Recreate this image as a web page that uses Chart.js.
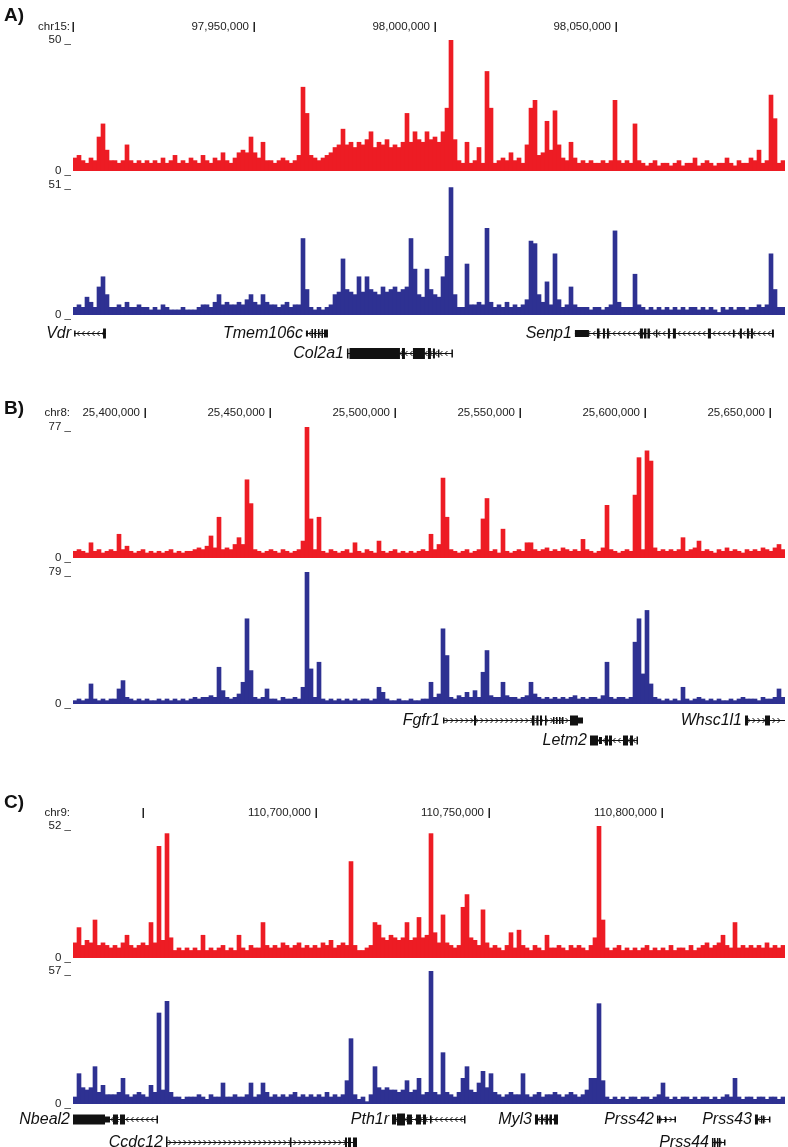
<!DOCTYPE html>
<html>
<head>
<meta charset="utf-8">
<script src="https://cdn.jsdelivr.net/npm/chart.js@4.4.1/dist/chart.umd.min.js"></script>
<style>
  html, body { margin: 0; padding: 0; background: #fff; }
  #page { position: relative; width: 788px; height: 1147px; overflow: hidden; }
  #page canvas { position: absolute; left: 0; }
</style>
</head>
<body>
<div id="page"></div>
<script>
// genomic windows (start, end) and ruler ticks
const aRange = [97900000, 98096685];
const aTicks = [97900000, 97950000, 98000000, 98050000];
const aTickLabels = ['', '97,950,000', '98,000,000', '98,050,000'];
const bRange = [25371200, 25656000];
const bTicks = [25400000, 25450000, 25500000, 25550000, 25600000, 25650000];
const bTickLabels = ['25,400,000', '25,450,000', '25,500,000', '25,550,000', '25,600,000', '25,650,000'];
const cRange = [110629800, 110835580];
const cTicks = [110650000, 110700000, 110750000, 110800000];
const cTickLabels = ['', '110,700,000', '110,750,000', '110,800,000'];

// track maxima (data range labels)
const aMax = [50, 51];
const bMax = [77, 79];
const cMax = [52, 57];

// binned coverage, evenly spaced over each window
const aRed = [5,6,4,3,5,4,13,18,8,4, 4,3,4,10,4,3,4,3,4,3, 4,3,5,3,4,6,3,4,3,5, 4,3,6,4,3,5,4,7,4,3,
  5,7,8,7,13,7,5,11,4,4, 3,4,5,4,3,4,6,32,22,6, 5,4,5,6,7,9,10,16,10,11, 9,11,10,12,15,9,11,10,12,9,
  10,9,11,22,11,15,12,11,15,12, 13,11,15,24,50,12,4,3,11,3, 4,9,3,38,24,3,4,5,4,7, 4,5,3,10,24,27,6,7,19,8,
  23,10,5,4,11,5,3,4,3,4, 3,3,4,3,4,27,4,3,4,3, 18,4,3,2,3,4,2,3,3,2, 3,4,2,3,3,5,2,3,4,3,
  2,3,3,5,3,2,4,3,3,5, 4,8,3,4,29,20,3,4];
const aBlue = [3,4,3,7,5,3,11,15,8,3, 3,4,3,5,3,3,4,3,3,2, 3,2,4,3,2,2,2,3,2,2, 2,3,4,4,3,5,8,4,5,4,
  4,5,4,6,8,5,4,8,5,4, 4,3,4,5,3,4,4,30,10,3, 2,3,2,3,4,8,9,22,10,9, 8,15,9,15,10,9,8,11,9,10,
  11,9,10,11,30,18,8,7,18,10, 8,7,15,23,50,8,3,3,20,4, 4,5,4,34,5,3,4,3,5,3, 4,3,4,6,29,28,8,5,13,4,
  24,6,3,4,11,4,3,3,3,2, 3,3,2,3,4,33,5,3,3,3, 16,4,3,2,3,2,3,2,3,2, 3,2,3,2,3,3,2,3,2,3,
  2,1,3,2,3,2,3,3,2,3, 3,4,3,4,24,10,3,3];
const bRed = [4,5,4,3,9,4,5,3,4,5, 4,14,5,7,4,3,4,5,3,4, 3,4,3,4,5,3,4,3,4,4, 5,6,5,7,13,6,24,5,6,5,
  8,12,8,46,32,5,4,3,4,5, 4,3,5,4,3,4,5,10,77,23, 5,24,4,3,5,4,3,4,5,3, 9,4,3,5,4,3,10,4,3,4,
  5,3,4,3,4,3,4,5,4,14, 5,8,47,24,5,4,3,4,5,3, 4,5,23,35,4,5,3,17,4,3, 4,5,4,9,9,5,4,5,6,4,
  5,4,6,5,4,5,4,11,5,4, 3,4,6,31,5,4,3,4,5,4, 37,59,5,63,57,6,4,5,4,5, 4,5,12,4,5,6,10,4,5,4,
  3,5,4,6,4,5,4,3,5,4, 5,4,6,5,4,6,8,5];
const bBlue = [2,3,2,3,12,3,2,3,2,3, 3,9,14,4,3,2,3,2,3,2, 2,3,2,3,2,3,2,3,2,3, 4,3,4,4,5,4,22,8,4,3,
  4,6,13,51,20,4,3,4,9,3, 3,2,4,3,3,4,3,10,79,21, 4,25,3,2,3,2,3,2,3,2, 3,2,3,3,2,3,10,7,3,2,
  2,3,2,2,3,2,2,3,3,13, 4,6,45,29,4,3,5,4,7,4, 8,4,19,32,5,4,4,13,5,4, 4,3,4,5,13,6,4,3,4,3,
  4,3,4,3,4,5,3,4,3,4, 4,3,5,25,4,3,4,4,3,4, 37,51,18,56,12,4,3,2,3,2, 3,2,10,3,2,3,4,3,2,3,
  2,3,2,2,3,2,3,4,3,3, 3,2,4,3,3,4,9,4];
const cRed = [6,12,5,7,6,15,5,6,5,4, 5,4,6,9,5,4,5,6,5,14, 6,44,7,49,8,3,4,3,4,3, 4,3,9,3,4,3,4,5,3,4,
  3,9,4,3,5,4,4,14,5,4, 5,4,6,5,4,5,6,4,5,4, 5,4,6,5,7,4,5,6,5,38, 5,3,3,4,5,14,13,8,7,9,
  8,7,8,14,7,8,16,8,9,49, 10,6,17,6,5,4,5,20,25,8, 7,5,19,6,4,5,4,3,5,10, 4,11,5,4,3,5,4,3,9,4,
  4,5,4,3,5,4,5,4,3,5, 8,52,15,4,3,4,5,3,4,3, 4,3,4,5,3,4,3,4,3,5, 3,4,4,3,5,3,4,5,6,4,
  5,6,9,5,4,14,4,5,4,5, 4,5,4,6,4,5,4,5];
const cBlue = [3,13,7,6,7,16,5,8,4,4, 4,5,11,4,3,4,5,4,3,8, 5,39,6,44,5,3,3,2,3,3, 3,4,3,2,4,3,3,9,3,3,
  4,3,3,4,9,3,4,9,5,3, 4,3,4,3,4,5,3,4,3,4, 3,4,3,5,3,4,3,4,10,28, 4,2,3,1,4,16,7,6,7,6,
  6,5,6,10,5,6,11,4,5,57, 5,4,22,5,4,3,5,11,16,6, 5,9,14,7,13,5,4,3,4,5, 4,4,13,4,3,4,5,3,4,4,
  5,4,3,4,5,4,3,4,6,11, 11,43,10,3,2,3,2,3,2,3, 3,2,3,3,2,3,4,9,3,2, 3,2,3,3,2,3,2,3,3,2,
  3,2,3,4,3,11,3,2,3,3, 2,3,3,2,3,3,2,3];

// gene models: exons as [start, end, height]
const aGenes = [
  { name: 'Vdr', row: 0, start: 97900300, end: 97909100, strand: -1,
    exons: [[97900300, 97900600, 6], [97908300, 97909100, 10]] },
  { name: 'Tmem106c', row: 0, start: 97964350, end: 97970430, strand: -1,
    exons: [[97964350, 97964900, 6], [97965870, 97966290, 9], [97966700, 97967120, 9], [97967670, 97968080, 9], [97968640, 97969050, 9], [97969330, 97970430, 8]] },
  { name: 'Col2a1', row: 1, start: 97975680, end: 98004820, strand: -1,
    exons: [[97975680, 97976095, 10], [97976370, 97990320, 11], [97990870, 97991700, 11], [97993910, 97997220, 11], [97998050, 97998880, 11], [97999430, 97999980, 10], [98000810, 98001225, 8], [98004540, 98004820, 8]] },
  { name: 'Senp1', row: 0, start: 98038650, end: 98093620, strand: -1,
    exons: [[98038650, 98042520, 7], [98044730, 98045420, 10], [98046390, 98046940, 10], [98047490, 98048040, 10], [98056610, 98057440, 10], [98057720, 98058410, 10], [98058690, 98059370, 10], [98061030, 98061300, 8], [98064340, 98064890, 10], [98065720, 98066550, 10], [98075390, 98076220, 10], [98082300, 98082710, 8], [98084230, 98084780, 10], [98086160, 98086720, 10], [98087270, 98087820, 10], [98093070, 98093620, 8]] }
];
const bGenes = [
  { name: 'Fgfr1', row: 0, start: 25519200, end: 25575200, strand: 1,
    exons: [[25519200, 25519600, 6], [25531600, 25532400, 10], [25554800, 25555800, 10], [25556600, 25557400, 10], [25558000, 25558800, 10], [25560000, 25560600, 10], [25563200, 25563600, 7], [25564400, 25564800, 7], [25565600, 25566000, 7], [25566800, 25567200, 7], [25570000, 25573200, 10], [25573200, 25575200, 6]] },
  { name: 'Letm2', row: 1, start: 25578000, end: 25597200, strand: -1,
    exons: [[25578000, 25581200, 10], [25581600, 25582800, 7], [25584000, 25585200, 10], [25585600, 25586800, 10], [25591200, 25593200, 10], [25594000, 25595200, 10], [25596600, 25597200, 8]] },
  { name: 'Whsc1l1', row: 0, start: 25640000, end: 25656000, strand: 1,
    exons: [[25640000, 25641200, 10], [25648000, 25650000, 10]] }
];
const cGenes = [
  { name: 'Nbeal2', row: 0, start: 110629800, end: 110654080, strand: -1,
    exons: [[110629800, 110639050, 10], [110639050, 110640490, 6], [110641360, 110642800, 10], [110643380, 110644830, 10], [110653930, 110654080, 8]] },
  { name: 'Ccdc12', row: 1, start: 110656680, end: 110711880, strand: 1,
    exons: [[110656680, 110656970, 12], [110692510, 110692800, 10], [110708410, 110708990, 10], [110709280, 110710140, 10], [110710720, 110711880, 10]] },
  { name: 'Pth1r', row: 0, start: 110722000, end: 110743090, strand: -1,
    exons: [[110722000, 110723150, 10], [110723440, 110725750, 12], [110726330, 110727770, 10], [110728930, 110730370, 10], [110730950, 110731820, 10], [110732970, 110733260, 8], [110742800, 110743090, 8]] },
  { name: 'Myl3', row: 0, start: 110763320, end: 110769970, strand: -1,
    exons: [[110763320, 110764190, 10], [110765050, 110765630, 10], [110766350, 110767080, 10], [110767520, 110768240, 10], [110768810, 110769970, 10]] },
  { name: 'Prss42', row: 0, start: 110798580, end: 110803780, strand: 1,
    exons: [[110798580, 110798870, 8], [110799150, 110799440, 8], [110800880, 110801170, 6], [110803640, 110803780, 6]] },
  { name: 'Prss44', row: 1, start: 110814470, end: 110818230, strand: 1,
    exons: [[110814470, 110814760, 9], [110815050, 110815340, 9], [110815920, 110816210, 9], [110816500, 110816790, 9], [110817940, 110818230, 6]] },
  { name: 'Prss43', row: 0, start: 110826900, end: 110831230, strand: -1,
    exons: [[110826900, 110827760, 10], [110828630, 110828920, 8], [110829200, 110829490, 8], [110830940, 110831230, 6]] }
];

const RED = '#ED1C24';
const BLUE = '#2E3192';
const FONT = "'Liberation Sans', Arial, Helvetica, sans-serif";
const INK = '#222';

function makeRuler(letter, chrom, ticks, labels, letterDy, rulerDy) {
  return {
    id: 'ruler',
    afterDraw(chart) {
      const ctx = chart.ctx, xs = chart.scales.x, area = chart.chartArea;
      const y = area.top + rulerDy;
      ctx.save();
      ctx.fillStyle = INK;
      ctx.textBaseline = 'middle';
      ctx.font = '11.5px ' + FONT;
      ctx.textAlign = 'right';
      ctx.fillText(chrom, area.left - 3, y);
      ticks.forEach((t, i) => {
        const px = Math.round(xs.getPixelForValue(t));
        ctx.fillRect(px - 0.5, y - 5, 1.5, 10);
        if (labels[i]) ctx.fillText(labels[i], px - 5, y);
      });
      ctx.font = 'bold 19px ' + FONT;
      ctx.textAlign = 'left';
      ctx.fillStyle = '#111';
      ctx.fillText(letter, 4, area.top + letterDy);
      ctx.restore();
    }
  };
}

function makeGenes(genes, rows) {
  return {
    id: 'genes',
    afterDraw(chart) {
      const ctx = chart.ctx, xs = chart.scales.x, base = chart.chartArea.bottom;
      ctx.save();
      genes.forEach(g => {
        const y = Math.round(base + rows[g.row]);
        const x0 = xs.getPixelForValue(g.start), x1 = xs.getPixelForValue(g.end);
        ctx.strokeStyle = '#111';
        ctx.fillStyle = '#111';
        ctx.lineWidth = 1;
        ctx.beginPath();
        ctx.moveTo(x0, y + 0.5);
        ctx.lineTo(x1, y + 0.5);
        ctx.stroke();
        ctx.beginPath();
        for (let cx = x0 + 4; cx < x1 - 2; cx += 5) {
          ctx.moveTo(cx - 1.5 * g.strand, y - 2);
          ctx.lineTo(cx + 1 * g.strand, y + 0.5);
          ctx.lineTo(cx - 1.5 * g.strand, y + 3);
        }
        ctx.stroke();
        g.exons.forEach(([s, e, h]) => {
          const ps = xs.getPixelForValue(s), pe = xs.getPixelForValue(e);
          ctx.fillRect(ps, y + 0.5 - h / 2, Math.max(pe - ps, 1.5), h);
        });
        ctx.font = 'italic 16px ' + FONT;
        ctx.textAlign = 'right';
        ctx.textBaseline = 'middle';
        ctx.fillText(g.name, x0 - 3, y + 0.5);
      });
      ctx.restore();
    }
  };
}

function trackChart(top, height, pad, vals, range, max, color, extraPlugin) {
  const cv = document.createElement('canvas');
  cv.width = 788;
  cv.height = height;
  cv.style.top = top + 'px';
  document.getElementById('page').appendChild(cv);
  const step = (range[1] - range[0]) / vals.length;
  return new Chart(cv, {
    type: 'bar',
    data: {
      datasets: [{
        data: vals.map((v, i) => ({ x: range[0] + (i + 0.5) * step, y: v })),
        backgroundColor: color,
        borderWidth: 0,
        barPercentage: 1,
        categoryPercentage: 1
      }]
    },
    options: {
      responsive: false,
      animation: false,
      layout: { padding: { top: pad[0], right: 3, bottom: pad[1], left: 0 } },
      plugins: { legend: { display: false }, tooltip: { enabled: false } },
      scales: {
        x: { type: 'linear', min: range[0], max: range[1], offset: false, display: false },
        y: {
          min: 0, max: max,
          afterFit: s => { s.width = 73; },
          afterBuildTicks: s => { s.ticks = [{ value: 0 }, { value: max }]; },
          grid: { display: false, drawTicks: false },
          border: { display: false },
          ticks: { padding: 2, color: INK, font: { family: FONT, size: 11.5 }, callback: v => v + ' _' }
        }
      }
    },
    plugins: [extraPlugin]
  });
}

// panel A
trackChart(0, 180, [40, 7], aRed, aRange, aMax[0], RED,
  makeRuler('A)', 'chr15:', aTicks, aTickLabels, -24.5, -13));
trackChart(175, 190, [10, 50], aBlue, aRange, aMax[1], BLUE, makeGenes(aGenes, [18, 38]));

// panel B
trackChart(387, 180, [40, 7], bRed, bRange, bMax[0], RED,
  makeRuler('B)', 'chr8:', bTicks, bTickLabels, -18.5, -14));
trackChart(562, 192, [10, 50], bBlue, bRange, bMax[1], BLUE, makeGenes(bGenes, [16, 36]));

// panel C
trackChart(786, 181, [40, 7], cRed, cRange, cMax[0], RED,
  makeRuler('C)', 'chr9:', cTicks, cTickLabels, -23.5, -13));
trackChart(961, 186, [10, 43], cBlue, cRange, cMax[1], BLUE, makeGenes(cGenes, [15, 38]));
</script>
</body>
</html>
